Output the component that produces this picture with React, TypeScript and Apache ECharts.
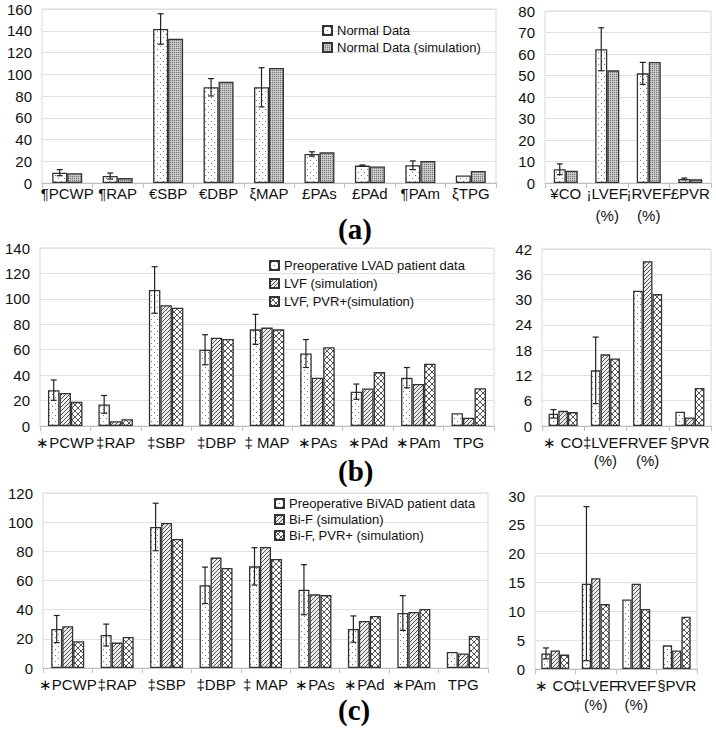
import React, { useEffect, useRef } from 'react';
import * as echarts from 'echarts';

// ---------- DATA ----------
const aLeftCats = ['¶PCWP', '¶RAP', '€SBP', '€DBP', 'ξMAP', '£PAs', '£PAd', '¶PAm', 'ξTPG'];
const aLeftNormal = [9.5, 6.4, 141.6, 88, 88, 26.7, 16, 16.3, 7];
const aLeftNormalErr = [2.8, 2.8, 14, 8, 18, 2, 0.6, 4, 0];
const aLeftSim = [9, 4.5, 132.7, 93, 105.7, 28.2, 15.2, 20.3, 11];

const aRightCats = ['¥CO', '¡LVEF\n(%)', '¡RVEF\n(%)', '£PVR'];
const aRightNormal = [6.4, 62.2, 51, 1.9];
const aRightNormalErr = [2.5, 10, 5.1, 0.4];
const aRightSim = [5.7, 52.4, 56.3, 1.7];

const bLeftCats = ['∗PCWP', '‡RAP', '‡SBP', '‡DBP', '‡ MAP', '∗PAs', '∗PAd', '∗PAm', 'TPG'];
const bLeftPreop = [28.2, 17, 107, 60, 76, 57, 27, 38, 10];
const bLeftPreopErr = [8, 7, 18.3, 11.8, 11.8, 11, 6, 8, 0];
const bLeftLVF = [26, 3.7, 95, 69.5, 77.4, 38, 29.5, 33, 6.5];
const bLeftLVFPVR = [19, 5.3, 93, 68.4, 76, 62, 42.4, 49, 29.7];

const bRightCats = ['∗ CO', '‡LVEF\n(%)', 'RVEF\n(%)', '§PVR'];
const bRightPreop = [2.9, 13.2, 32.1, 3.4];
const bRightPreopErr = [1, 7.9, 0, 0];
const bRightLVF = [3.6, 17, 39.1, 2];
const bRightLVFPVR = [3.3, 16, 31.3, 9];

const cLeftCats = ['∗PCWP', '‡RAP', '‡SBP', '‡DBP', '‡ MAP', '∗PAs', '∗PAd', '∗PAm', 'TPG'];
const cLeftPreop = [26.7, 22.6, 96.7, 56.7, 69.7, 53.7, 26.7, 37.7, 11];
const cLeftPreopErr = [9.3, 7.5, 16.3, 12.5, 12.8, 17.2, 9, 11.9, 0];
const cLeftBiF = [28.6, 17.4, 99.4, 75.7, 83, 50.5, 32.2, 38.4, 9.9];
const cLeftBiFPVR = [18.3, 21.3, 88.5, 68.6, 74.7, 50, 35.7, 40.5, 22];

const cRightCats = ['∗ CO', '‡LVEF\n(%)', 'RVEF\n(%)', '§PVR'];
const cRightPreop = [2.7, 14.8, 12.06, 4.1];
const cRightPreopErr = [0.95, 13.35, 0, 0];
const cRightBiF = [3.2, 15.75, 14.8, 3.2];
const cRightBiFPVR = [2.5, 11.25, 10.4, 9.06];

const namesA = ['Normal Data', 'Normal Data (simulation)'];
const namesB = ['Preoperative LVAD patient data', 'LVF (simulation)', 'LVF, PVR+(simulation)'];
const namesC = ['Preoperative BiVAD patient data', 'Bi-F (simulation)', 'Bi-F, PVR+ (simulation)'];

const FONT = 'Arial, "Liberation Sans", sans-serif';
const SERIF = '"Times New Roman", "Liberation Serif", serif';

function makePattern(kind: string) {
  const c = document.createElement('canvas');
  const ctx = c.getContext('2d')!;
  if (kind === 'dots') {
    c.width = 6; c.height = 6;
    ctx.fillStyle = '#ffffff'; ctx.fillRect(0, 0, 6, 6);
    ctx.fillStyle = '#777777';
    ctx.fillRect(1, 1, 1, 1); ctx.fillRect(4, 4, 1, 1);
  } else if (kind === 'gray') {
    c.width = 2; c.height = 2;
    ctx.fillStyle = '#bdbdbd'; ctx.fillRect(0, 0, 2, 2);
    ctx.fillStyle = '#7a7a7a'; ctx.fillRect(0, 0, 1, 1);
    ctx.fillStyle = '#d2d2d2'; ctx.fillRect(1, 1, 1, 1);
  } else if (kind === 'diag') {
    c.width = 4; c.height = 4;
    ctx.fillStyle = '#ececec'; ctx.fillRect(0, 0, 4, 4);
    ctx.fillStyle = '#555555';
    for (let i = 0; i < 4; i++) ctx.fillRect(i, 3 - i, 1, 1);
  } else {
    c.width = 6; c.height = 6;
    ctx.fillStyle = '#ffffff'; ctx.fillRect(0, 0, 6, 6);
    ctx.fillStyle = '#555555';
    for (let i = 0; i < 6; i++) { ctx.fillRect(i, i, 1, 1); ctx.fillRect(i, 5 - i, 1, 1); }
  }
  return { image: c, repeat: 'repeat' } as any;
}

type Panel = {
  grid: { left: number; top: number; width: number; height: number };
  cats: string[];
  max: number;
  interval: number;
  barW: number;
  names: string[];
  values: number[][];
  patterns: string[];
  err: number[];
  labelMargin: number;
  lineHeight: number;
};

export default function App() {
  const ref = useRef<HTMLDivElement>(null);
  useEffect(() => {
    if (!ref.current) return;
    const chart = echarts.init(ref.current, undefined, { renderer: 'svg' });

    const panels: Panel[] = [
      { grid: { left: 42, top: 9, width: 454, height: 174 }, cats: aLeftCats, max: 160, interval: 20, barW: 15,
        names: namesA, values: [aLeftNormal, aLeftSim], patterns: ['dots', 'gray'], err: aLeftNormalErr, labelMargin: -1, lineHeight: 22 },
      { grid: { left: 545, top: 11, width: 166, height: 172 }, cats: aRightCats, max: 80, interval: 10, barW: 12,
        names: namesA, values: [aRightNormal, aRightSim], patterns: ['dots', 'gray'], err: aRightNormalErr, labelMargin: -1, lineHeight: 22 },
      { grid: { left: 40, top: 248, width: 454, height: 178 }, cats: bLeftCats, max: 140, interval: 20, barW: 11.5,
        names: namesB, values: [bLeftPreop, bLeftLVF, bLeftLVFPVR], patterns: ['dots', 'diag', 'cross'], err: bLeftPreopErr, labelMargin: 7, lineHeight: 18 },
      { grid: { left: 542, top: 249, width: 169, height: 177 }, cats: bRightCats, max: 42, interval: 6, barW: 9.7,
        names: namesB, values: [bRightPreop, bRightLVF, bRightLVFPVR], patterns: ['dots', 'diag', 'cross'], err: bRightPreopErr, labelMargin: 7, lineHeight: 18 },
      { grid: { left: 43, top: 493, width: 445, height: 175 }, cats: cLeftCats, max: 120, interval: 20, barW: 11,
        names: namesC, values: [cLeftPreop, cLeftBiF, cLeftBiFPVR], patterns: ['dots', 'diag', 'cross'], err: cLeftPreopErr, labelMargin: 6.5, lineHeight: 19 },
      { grid: { left: 535, top: 496, width: 162, height: 173 }, cats: cRightCats, max: 30, interval: 5, barW: 9.3,
        names: namesC, values: [cRightPreop, cRightBiF, cRightBiFPVR], patterns: ['dots', 'diag', 'cross'], err: cRightPreopErr, labelMargin: 6.5, lineHeight: 19 },
    ];

    const grids: any[] = [];
    const xAxes: any[] = [];
    const yAxes: any[] = [];
    const series: any[] = [];

    panels.forEach((p, gi) => {
      grids.push({ ...p.grid, show: true, borderColor: '#d9d9d9', borderWidth: 1, containLabel: false });
      xAxes.push({
        type: 'category', gridIndex: gi, data: p.cats,
        axisLine: { show: true, lineStyle: { color: '#bfbfbf', width: 1 } },
        axisTick: { show: true, length: 5, lineStyle: { color: '#bfbfbf' } },
        axisLabel: { interval: 0, color: '#111', fontSize: 15, fontFamily: FONT, margin: p.labelMargin, lineHeight: p.lineHeight },
      });
      yAxes.push({
        type: 'value', gridIndex: gi, min: 0, max: p.max, interval: p.interval,
        axisLine: { show: false }, axisTick: { show: false },
        splitLine: { show: true, lineStyle: { color: '#e0e0e0', width: 1 } },
        axisLabel: { color: '#111', fontSize: 15, fontFamily: FONT, margin: 10 },
      });
      const n = p.values.length;
      p.values.forEach((vals, si) => {
        series.push({
          type: 'bar', name: p.names[si], xAxisIndex: gi, yAxisIndex: gi,
          data: vals, barWidth: p.barW, barGap: '0%',
          itemStyle: { color: makePattern(p.patterns[si]), borderColor: '#333', borderWidth: 1.3 },
          emphasis: { disabled: true },
        });
      });
      const offset = -((n - 1) * p.barW) / 2;
      const errData: number[][] = [];
      p.err.forEach((e, i) => {
        if (e > 0) errData.push([i, p.values[0][i] - e, p.values[0][i] + e]);
      });
      series.push({
        type: 'custom', name: 'err' + gi, xAxisIndex: gi, yAxisIndex: gi, data: errData, z: 10,
        renderItem: (params: any, api: any) => {
          const idx = api.value(0);
          const x = api.coord([idx, 0])[0] + offset;
          const yLo = api.coord([idx, api.value(1)])[1];
          const yHi = api.coord([idx, api.value(2)])[1];
          const st = { stroke: '#222', lineWidth: 1.2 };
          return {
            type: 'group',
            children: [
              { type: 'line', shape: { x1: x, y1: yLo, x2: x, y2: yHi }, style: st },
              { type: 'line', shape: { x1: x - 3, y1: yHi, x2: x + 3, y2: yHi }, style: st },
              { type: 'line', shape: { x1: x - 3, y1: yLo, x2: x + 3, y2: yLo }, style: st },
            ],
          };
        },
      });
    });

    const legendBase = {
      orient: 'vertical', itemWidth: 9, itemHeight: 9, icon: 'rect', itemGap: 4,
      textStyle: { fontSize: 13, fontFamily: FONT, color: '#111' },
      selectedMode: false,
    };

    chart.setOption({
      animation: false,
      backgroundColor: '#ffffff',
      grid: grids,
      xAxis: xAxes,
      yAxis: yAxes,
      series,
      legend: [
        { ...legendBase, data: namesA, left: 317, top: 19 },
        { ...legendBase, data: namesB, left: 264, top: 254, itemGap: 5 },
        { ...legendBase, data: namesC, left: 269, top: 492, itemGap: 3 },
      ],
      graphic: [
        { type: 'text', left: 338, top: 214, style: { text: '(a)', font: `bold 29px ${SERIF}`, fill: '#000' } },
        { type: 'text', left: 338, top: 456, style: { text: '(b)', font: `bold 29px ${SERIF}`, fill: '#000' } },
        { type: 'text', left: 338, top: 695, style: { text: '(c)', font: `bold 29px ${SERIF}`, fill: '#000' } },
      ],
    });
    return () => chart.dispose();
  }, []);
  return (
    <div style={{ position: 'fixed', left: 0, top: 0, width: 716, height: 731, background: '#fff' }}>
      <div ref={ref} style={{ width: 716, height: 731 }} />
    </div>
  );
}
